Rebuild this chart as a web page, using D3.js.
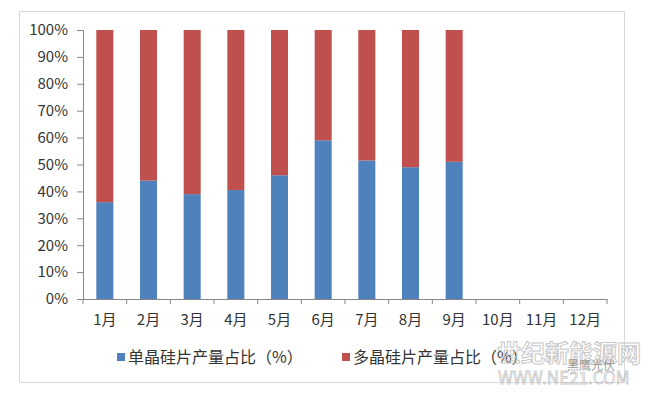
<!DOCTYPE html>
<html>
<head>
<meta charset="utf-8">
<style>
  body { margin: 0; background: #fff; }
  text { font-family: "Noto Sans CJK SC", "DejaVu Sans", sans-serif; }
</style>
</head>
<body>
<div id="chart"></div>
<script src="https://d3js.org/d3.v7.min.js"></script>
<script>
// months and share of mono / multi wafer output (%)
var months = ["1月", "2月", "3月", "4月", "5月", "6月", "7月", "8月", "9月", "10月", "11月", "12月"];
var monoShare = [36, 44, 39, 40.5, 46, 59, 51.5, 49, 51, null, null, null];
var multiShare = [64, 56, 61, 59.5, 54, 41, 48.5, 51, 49, null, null, null];
var yTicks = [0, 10, 20, 30, 40, 50, 60, 70, 80, 90, 100];
var seriesNames = ["单晶硅片产量占比（%）", "多晶硅片产量占比（%）"];
var seriesColors = ["#4F81BD", "#C0504D"];

var width = 652, height = 394;
var plotLeft = 83, plotRight = 607, plotTop = 30, plotBottom = 299;

var svg = d3.select("#chart").append("svg")
    .attr("width", width)
    .attr("height", height);

// chart frame
svg.append("rect")
    .attr("x", 19.5).attr("y", 11.5)
    .attr("width", 605).attr("height", 371)
    .attr("fill", "#fff")
    .attr("stroke", "#d9d9d9");

var x = d3.scaleBand()
    .domain(months)
    .range([plotLeft, plotRight])
    .paddingInner(0.61)
    .paddingOuter(0.305);

var y = d3.scaleLinear()
    .domain([0, 100])
    .range([plotBottom, plotTop]);

// stacked bars
var rows = months.map(function(m, i) {
    return { month: m, mono: monoShare[i], multi: multiShare[i] };
}).filter(function(d) { return d.mono != null; });

var stack = d3.stack().keys(["mono", "multi"]);
var layers = stack(rows);

svg.append("g").selectAll("g")
    .data(layers)
    .enter().append("g")
    .attr("fill", function(d, i) { return seriesColors[i]; })
    .selectAll("rect")
    .data(function(d) { return d; })
    .enter().append("rect")
    .attr("x", function(d) { return x(d.data.month); })
    .attr("y", function(d) { return y(d[1]); })
    .attr("width", x.bandwidth())
    .attr("height", function(d) { return y(d[0]) - y(d[1]); });

// y axis
var yAxis = svg.append("g")
    .attr("transform", "translate(" + plotLeft + ",0)")
    .call(d3.axisLeft(y).tickValues(yTicks).tickSize(6).tickPadding(9)
        .tickFormat(function(d) { return d + "%"; }));
yAxis.selectAll("text").attr("font-size", 15).attr("fill", "#333");

// x axis, ticks sit on band edges
var xAxis = svg.append("g")
    .attr("transform", "translate(0," + plotBottom + ")")
    .call(d3.axisBottom(x).tickSize(0).tickPadding(15));
xAxis.selectAll("text").attr("font-size", 15).attr("fill", "#333");
xAxis.selectAll(".edge")
    .data(months.concat([""]))
    .enter().append("line")
    .attr("class", "edge")
    .attr("x1", function(d, i) { return plotLeft + i * x.step(); })
    .attr("x2", function(d, i) { return plotLeft + i * x.step(); })
    .attr("y1", 0).attr("y2", 5)
    .attr("stroke", "#868686");

svg.selectAll(".domain").attr("stroke", "#868686");
yAxis.selectAll(".tick line").attr("stroke", "#868686");

// legend
var legendX = [117, 342];
var legend = svg.append("g").selectAll("g")
    .data(seriesNames)
    .enter().append("g")
    .attr("transform", function(d, i) { return "translate(" + legendX[i] + ",357)"; });
legend.append("rect")
    .attr("x", 0).attr("y", -4)
    .attr("width", 8).attr("height", 8)
    .attr("fill", function(d, i) { return seriesColors[i]; });
legend.append("text")
    .attr("x", 11).attr("y", 0)
    .attr("dy", "0.35em")
    .attr("font-size", 16)
    .attr("fill", "#333")
    .text(function(d) { return d; });

// watermark
svg.append("text")
    .attr("x", 497).attr("y", 362)
    .attr("font-size", 24)
    .attr("font-weight", "bold")
    .attr("fill", "none")
    .attr("stroke", "#c8c8c8")
    .attr("stroke-width", 1)
    .text("世纪新能源网");
svg.append("text")
    .attr("x", 498).attr("y", 384)
    .attr("font-size", 17)
    .attr("fill", "none")
    .attr("stroke", "#c8c8c8")
    .attr("stroke-width", 0.8)
    .text("WWW.NE21.COM");
svg.append("text")
    .attr("x", 567).attr("y", 370)
    .attr("font-size", 12)
    .attr("fill", "#9a9a9a")
    .text("黑鹰光伏");
</script>
</body>
</html>
